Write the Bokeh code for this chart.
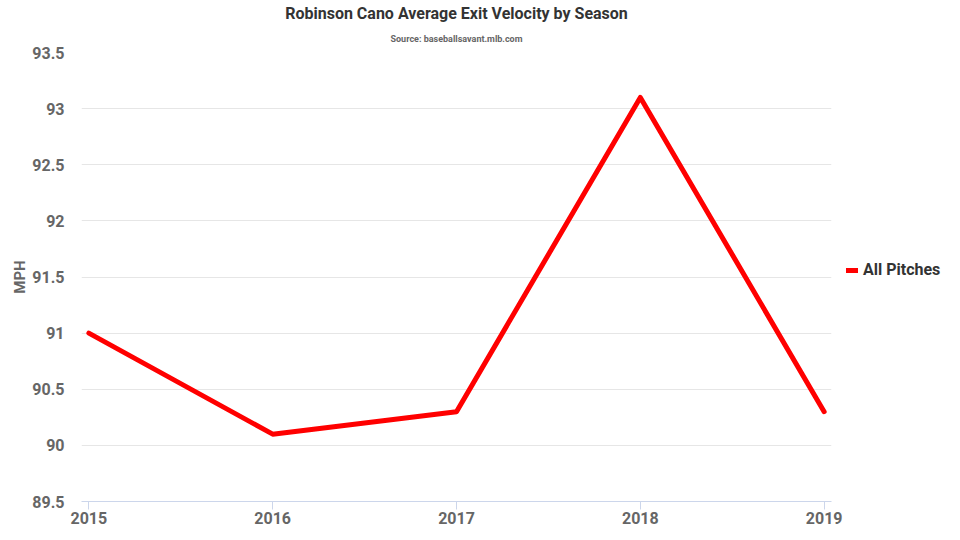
from bokeh.plotting import figure
from bokeh.models import (Range1d, FixedTicker, CustomJSTickFormatter, Legend, LegendItem, Title)
from bokeh.embed import file_html
from bokeh.resources import INLINE

# ---- data ----
seasons = [2015, 2016, 2017, 2018, 2019]
exit_velocity = [91.0, 90.1, 90.3, 93.1, 90.3]
y_ticks = [89.5, 90.0, 90.5, 91.0, 91.5, 92.0, 92.5, 93.0, 93.5]
series_name = "All Pitches"
chart_title = "Robinson Cano Average Exit Velocity by Season"
chart_subtitle = "Source: baseballsavant.mlb.com"
y_label = "MPH"

FONT = "Roboto"

p = figure(
    output_backend="svg", toolbar_location=None,
    frame_width=750, frame_height=449,
    min_border_left=66, min_border_right=112, min_border_bottom=23, min_border_top=44,
    x_range=Range1d(2014.96, 2019.04), y_range=Range1d(89.5, 93.5),
    title=None,
)
p.margin = (0, 0, 0, 8)
p.outline_line_color = None
p.background_fill_color = "white"
p.border_fill_color = "white"

sub = Title(text=chart_subtitle, align="center", text_font=FONT, text_font_size="9px",
            text_font_style="bold", text_color="#666666", standoff=17)
main = Title(text=chart_title, align="center", text_font=FONT, text_font_size="16px",
             text_font_style="bold", text_color="#333333", standoff=2)
p.add_layout(sub, "above")
p.add_layout(main, "above")

r = p.line(seasons, exit_velocity, line_color="#ff0000", line_width=5,
           line_join="round", line_cap="round")

# axes
p.xaxis.ticker = FixedTicker(ticks=seasons)
p.xaxis.minor_tick_line_color = None
p.xaxis.major_tick_line_color = "#ccd6eb"
p.xaxis.major_tick_in = 0
p.xaxis.major_tick_out = 8
p.xaxis.axis_line_color = "#ccd6eb"
p.xaxis.major_label_text_font = FONT
p.xaxis.major_label_text_font_size = "16px"
p.xaxis.major_label_text_font_style = "bold"
p.xaxis.major_label_text_color = "#666666"
p.xaxis.major_label_standoff = 2

p.yaxis.ticker = FixedTicker(ticks=y_ticks)
p.yaxis.formatter = CustomJSTickFormatter(code="return (Math.round(tick*10)/10).toString();")
p.yaxis.axis_line_color = None
p.yaxis.major_tick_line_color = None
p.yaxis.minor_tick_line_color = None
p.yaxis.major_label_text_font = FONT
p.yaxis.major_label_text_font_size = "16px"
p.yaxis.major_label_text_font_style = "bold"
p.yaxis.major_label_text_color = "#666666"
p.yaxis.major_label_standoff = 11
p.yaxis.axis_label = y_label
p.yaxis.axis_label_text_font = FONT
p.yaxis.axis_label_text_font_size = "15px"
p.yaxis.axis_label_text_font_style = "bold"
p.yaxis.axis_label_text_color = "#666666"
p.yaxis.axis_label_standoff = 0

p.xgrid.grid_line_color = None
p.ygrid.grid_line_color = "#e6e6e6"
p.ygrid.grid_line_width = 1

legend = Legend(items=[LegendItem(label=series_name, renderers=[r])],
                location=(15, 222), orientation="vertical",
                border_line_color=None, background_fill_alpha=0,
                label_text_font=FONT, label_text_font_size="16px",
                label_text_font_style="bold", label_text_color="#333333",
                glyph_width=12, glyph_height=16, label_standoff=5,
                margin=0, padding=0)
p.add_layout(legend, "right")

open("out.html", "w").write(file_html(p, INLINE))
